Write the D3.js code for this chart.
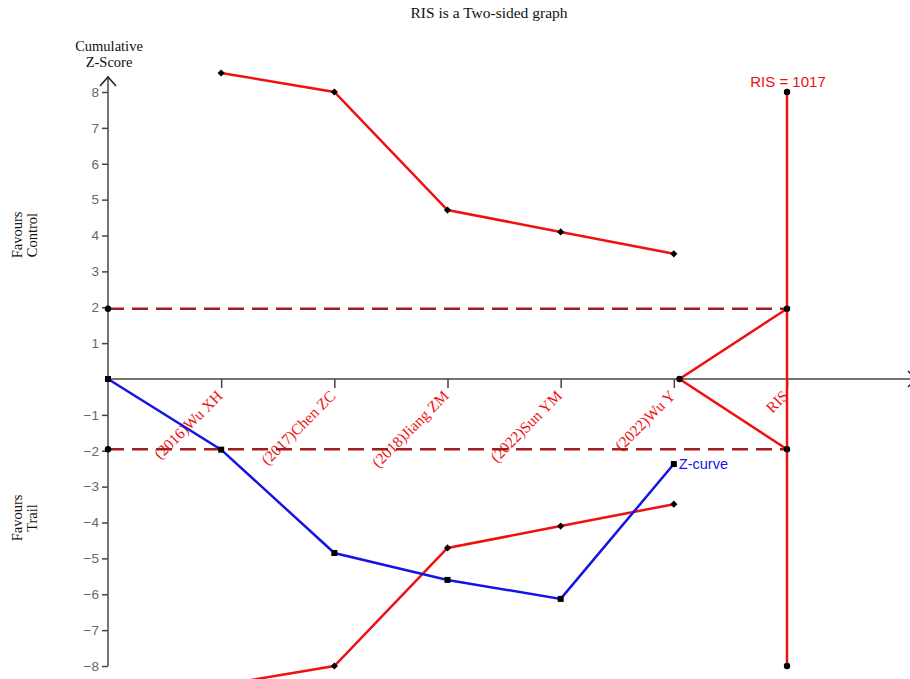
<!DOCTYPE html>
<html>
<head>
<meta charset="utf-8">
<script src="https://cdn.jsdelivr.net/npm/d3@7"></script>
<style>
  html, body { margin: 0; padding: 0; background: #fff; }
  svg { display: block; }
</style>
</head>
<body>
<svg id="chart" width="910" height="679"></svg>
<script>
// Trial sequential analysis: cumulative Z-curve against monitoring boundaries
const studies = ["(2016)Wu XH", "(2017)Chen ZC", "(2018)Jiang ZM", "(2022)Sun YM", "(2022)Wu Y", "RIS"];
const zCurve = [0, -1.97, -4.85, -5.6, -6.13, -2.37];           // start + one value per study
const upperBoundary = [8.53, 8.0, 4.71, 4.1, 3.49];             // O'Brien-Fleming, benefit side
const lowerBoundary = [-8.53, -8.0, -4.71, -4.1, -3.49];        // O'Brien-Fleming, harm side
const futilityStart = 5.05;                                      // wedge opens just after last trial
const conventional = [1.96, -1.96];
const risLabel = "RIS = 1017";
const yTicks = [-8, -7, -6, -5, -4, -3, -2, -1, 1, 2, 3, 4, 5, 6, 7, 8];

const red = "#f01010", blue = "#1414e6", darkRed = "#a21c1c", axisCol = "#444";

const svg = d3.select("#chart");
const x = d3.scaleLinear().domain([0, 6]).range([108, 787]);
const y = d3.scaleLinear().domain([-8, 8]).range([666, 92]);

// Title and axis captions
svg.append("text").attr("x", 489).attr("y", 18).attr("text-anchor", "middle")
  .attr("font-family", "Liberation Serif, Times New Roman, serif").attr("font-size", 15.5)
  .attr("fill", "#111").text("RIS is a Two-sided graph");
const cap = svg.append("text").attr("text-anchor", "middle")
  .attr("font-family", "Liberation Serif, serif").attr("font-size", 14.5).attr("fill", "#111");
cap.append("tspan").attr("x", 109).attr("y", 51).text("Cumulative");
cap.append("tspan").attr("x", 109).attr("y", 67).text("Z-Score");

function sideLabel(cy, l1, l2) {
  const t = svg.append("text").attr("text-anchor", "middle")
    .attr("transform", `translate(22,${cy}) rotate(-90)`)
    .attr("font-family", "Liberation Serif, serif").attr("font-size", 14.5).attr("fill", "#111");
  t.append("tspan").attr("x", 0).attr("y", 0).text(l1);
  t.append("tspan").attr("x", 0).attr("y", 15).text(l2);
}
sideLabel(235, "Favours", "Control");
sideLabel(518, "Favours", "Trail");

// Y axis
const yAxis = svg.append("g").attr("transform", `translate(${x(0)},0)`)
  .call(d3.axisLeft(y).tickValues(yTicks).tickSize(6).tickPadding(3));
yAxis.select(".domain").remove();
yAxis.selectAll(".tick line").attr("stroke", axisCol).attr("stroke-width", 1.5);
yAxis.selectAll(".tick text").attr("font-family", "Liberation Sans, Arial, sans-serif")
  .attr("font-size", 13.5).attr("fill", "#666");
svg.append("line").attr("x1", x(0)).attr("x2", x(0)).attr("y1", 77).attr("y2", y(-8))
  .attr("stroke", axisCol).attr("stroke-width", 1.5);
svg.append("path").attr("d", `M${x(0) - 8},${86} L${x(0)},${77} L${x(0) + 8},${86}`)
  .attr("fill", "none").attr("stroke", "#222").attr("stroke-width", 1.5);

// X axis along Z = 0
const xAxis = svg.append("g").attr("transform", `translate(0,${y(0)})`)
  .call(d3.axisBottom(x).tickValues(d3.range(1, 7)).tickSize(9)
    .tickFormat((d, i) => studies[i]));
xAxis.select(".domain").remove();
xAxis.selectAll(".tick line").attr("stroke", axisCol).attr("stroke-width", 1.5);
xAxis.selectAll(".tick text")
  .attr("font-family", "Liberation Serif, Times New Roman, serif").attr("font-size", 15.5)
  .attr("fill", red).attr("text-anchor", "end")
  .attr("x", 0).attr("y", 0).attr("dy", "0.35em")
  .attr("transform", "translate(-2,14) rotate(-45)");
svg.append("line").attr("x1", x(0)).attr("x2", 916).attr("y1", y(0)).attr("y2", y(0))
  .attr("stroke", axisCol).attr("stroke-width", 1.5);
svg.append("path").attr("d", `M908,${y(0) - 8} L916,${y(0)} L908,${y(0) + 8}`)
  .attr("fill", "none").attr("stroke", "#222").attr("stroke-width", 1.5);

// Conventional significance lines
conventional.forEach(v => {
  svg.append("line").attr("x1", x(0)).attr("x2", x(6)).attr("y1", y(v)).attr("y2", y(v))
    .attr("stroke", darkRed).attr("stroke-width", 2.5).attr("stroke-dasharray", "16,8");
});

const line = d3.line().x(d => x(d[0])).y(d => y(d[1]));
const diamond = d3.symbol().type(d3.symbolSquare).size(26);

// Monitoring boundaries
[upperBoundary, lowerBoundary].forEach(b => {
  const pts = b.map((v, i) => [i + 1, v]);
  svg.append("path").attr("d", line(pts)).attr("fill", "none")
    .attr("stroke", red).attr("stroke-width", 2.5);
  svg.selectAll(null).data(pts).enter().append("path").attr("d", diamond)
    .attr("transform", d => `translate(${x(d[0])},${y(d[1])}) rotate(45)`).attr("fill", "#000");
});

// Futility wedge
const wedge = [[6, conventional[0]], [futilityStart, 0], [6, conventional[1]]];
svg.append("path").attr("d", line(wedge)).attr("fill", "none")
  .attr("stroke", red).attr("stroke-width", 2.5);

// Required information size
svg.append("line").attr("x1", x(6)).attr("x2", x(6)).attr("y1", y(8)).attr("y2", y(-8))
  .attr("stroke", red).attr("stroke-width", 2.5);
svg.append("text").attr("x", x(6) + 1).attr("y", 87).attr("text-anchor", "middle")
  .attr("font-family", "Liberation Sans, Arial, sans-serif").attr("font-size", 15)
  .attr("fill", red).text(risLabel);

const dots = [[0, conventional[0]], [0, conventional[1]], [6, 8], [6, -8],
  [6, conventional[0]], [6, conventional[1]], [futilityStart, 0]];
svg.selectAll(null).data(dots).enter().append("circle")
  .attr("cx", d => x(d[0])).attr("cy", d => y(d[1])).attr("r", 3.2).attr("fill", "#000");

// Cumulative Z-curve
const zPts = zCurve.map((v, i) => [i, v]);
svg.append("path").attr("d", line(zPts)).attr("fill", "none")
  .attr("stroke", blue).attr("stroke-width", 2.5);
svg.selectAll(null).data(zPts).enter().append("rect")
  .attr("x", d => x(d[0]) - 3).attr("y", d => y(d[1]) - 3)
  .attr("width", 6).attr("height", 6).attr("fill", "#000");
const last = zPts[zPts.length - 1];
svg.append("text").attr("x", x(last[0]) + 5).attr("y", y(last[1]) + 5)
  .attr("font-family", "Liberation Sans, Arial, sans-serif").attr("font-size", 14.5)
  .attr("fill", blue).text("Z-curve");
</script>
</body>
</html>
